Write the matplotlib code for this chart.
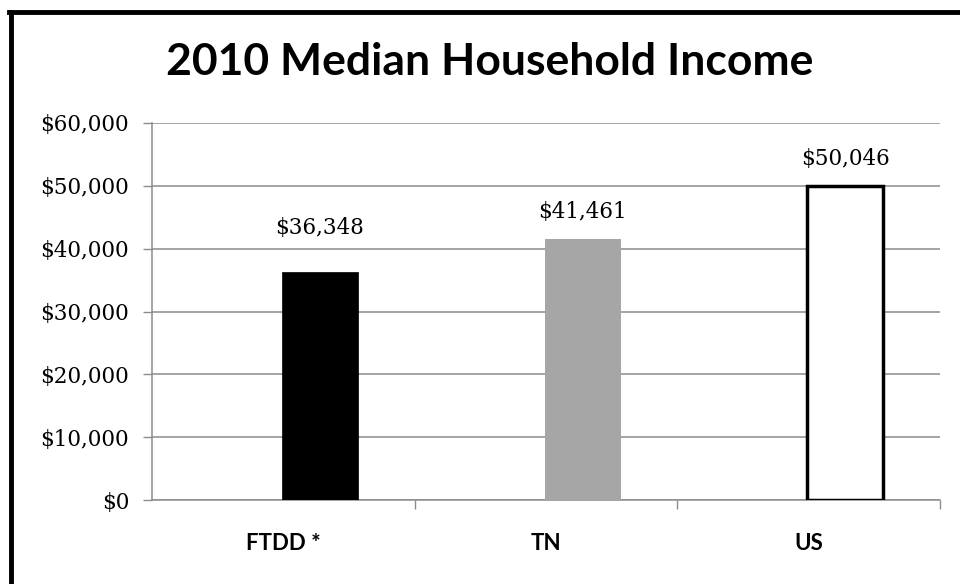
import matplotlib
matplotlib.use("Agg")
import matplotlib.pyplot as plt
from matplotlib.lines import Line2D
from matplotlib.ticker import FuncFormatter, FixedLocator

# 2010 median household income
areas = ["FTDD *", "TN", "US"]
incomes = [36348, 41461, 50046]
fills = ["black", "#a6a6a6", "white"]
edges = ["black", "#a6a6a6", "black"]
edge_widths = [0.5, 0, 2.5]
label_lift = [44, 27, 27]   # px above bar top

fig = plt.figure(figsize=(9.6, 5.84), dpi=100)
ax = fig.add_axes([0.1583, 0.1438, 0.8207, 0.6456])

xs = [i + 0.14 for i in range(len(areas))]
bars = ax.bar(xs, incomes, width=0.29, color=fills, edgecolor=edges,
              linewidth=edge_widths, zorder=3)

for x, v, lift in zip(xs, incomes, label_lift):
    ax.annotate(f"${v:,}", (x, v), xytext=(0, lift), textcoords="offset pixels",
                ha="center", va="center", fontsize=15.5, family="DejaVu Serif")

ax.set_xlim(-0.5, 2.5)
ax.set_ylim(0, 60000)
ax.set_yticks(range(0, 60001, 10000))
ax.yaxis.set_major_formatter(FuncFormatter(lambda v, p: f"${v:,.0f}"))
ax.grid(axis="y", color="#8c8c8c", linewidth=1.1, zorder=0)

ax.set_xticks(range(len(areas)))
ax.set_xticklabels(areas, fontsize=16, family="Lato", fontweight="bold")
ax.xaxis.set_minor_locator(FixedLocator([0.5, 1.5, 2.5]))
ax.tick_params(axis="x", which="major", length=0, pad=24)
ax.tick_params(axis="x", which="minor", length=6.5, color="#8c8c8c", width=1)
ax.tick_params(axis="y", length=6.5, color="#8c8c8c", width=1, pad=10,
               labelsize=15.5)
for lab in ax.get_yticklabels():
    lab.set_family("DejaVu Serif")

for side in ["top", "right"]:
    ax.spines[side].set_visible(False)
for side in ["left", "bottom"]:
    ax.spines[side].set_color("#8c8c8c")
    ax.spines[side].set_linewidth(1.1)

fig.text(490 / 960, 1 - 62 / 584, "2010 Median Household Income",
         ha="center", va="center", fontsize=32, family="Lato", fontweight="bold")

# heavy frame along the top and left edges
fig.add_artist(Line2D([11 / 960, 11 / 960], [0, 1 - 12 / 584], color="black",
                      linewidth=3.5, transform=fig.transFigure))
fig.add_artist(Line2D([9 / 960, 1], [1 - 12 / 584, 1 - 12 / 584], color="black",
                      linewidth=3.5, transform=fig.transFigure))

fig.savefig("out.png", dpi=100)
